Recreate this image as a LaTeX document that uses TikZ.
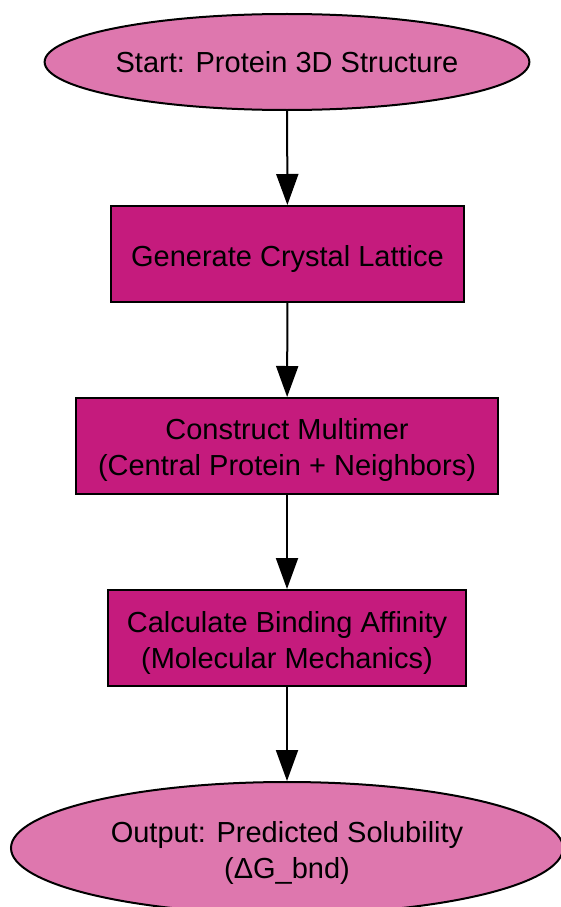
\documentclass[tikz,border=0pt]{standalone}
\usepackage{fontspec}
\setmainfont{Liberation Sans}
\usetikzlibrary{shapes.geometric,arrows.meta}
\definecolor{ellfill}{HTML}{DE77AE}
\definecolor{boxfill}{HTML}{C51B7D}
\tikzset{
  base/.style={draw=black,line width=2pt,align=center,inner sep=0pt,
    font=\fontsize{29}{36}\selectfont},
  lift/.style={execute at begin node={\rule{0pt}{#1}}},
  terminal/.style={base,ellipse,fill=ellfill},
  procbox/.style={base,rectangle,fill=boxfill},
  flow/.style={line width=2pt,-{Triangle[length=31pt,width=22pt]}}
}
\newcommand{\topgap}{\mbox{}\\[-6pt]}
\begin{document}
\begin{tikzpicture}[x=1pt,y=1pt]
\useasboundingbox (0,0) rectangle (561,-907);
\begin{scope}
\clip (0,0) rectangle (561,-907);
\node[terminal,minimum width=480pt,minimum height=96pt] (start) at (287,-62) {Start: Protein 3D Structure};
\node[procbox,lift=31pt,minimum width=353pt,minimum height=96pt] (lattice) at (287.5,-254) {Generate Crystal Lattice};
\node[procbox,minimum width=422pt,minimum height=96pt] (multimer) at (287,-446) {\topgap Construct Multimer\\(Central Protein + Neighbors)};
\node[procbox,minimum width=358pt,minimum height=96pt] (affinity) at (287,-638) {\topgap Calculate Binding Affinity\\(Molecular Mechanics)};
\node[terminal,minimum width=552pt,minimum height=132pt] (output) at (287,-848) {\topgap Output: Predicted Solubility\\(ΔG\_bnd)};
\end{scope}
\draw[flow] (start) -- (lattice);
\draw[flow] (lattice) -- (multimer);
\draw[flow] (multimer) -- (affinity);
\draw[flow] (affinity) -- (output);
\end{tikzpicture}
\end{document}
